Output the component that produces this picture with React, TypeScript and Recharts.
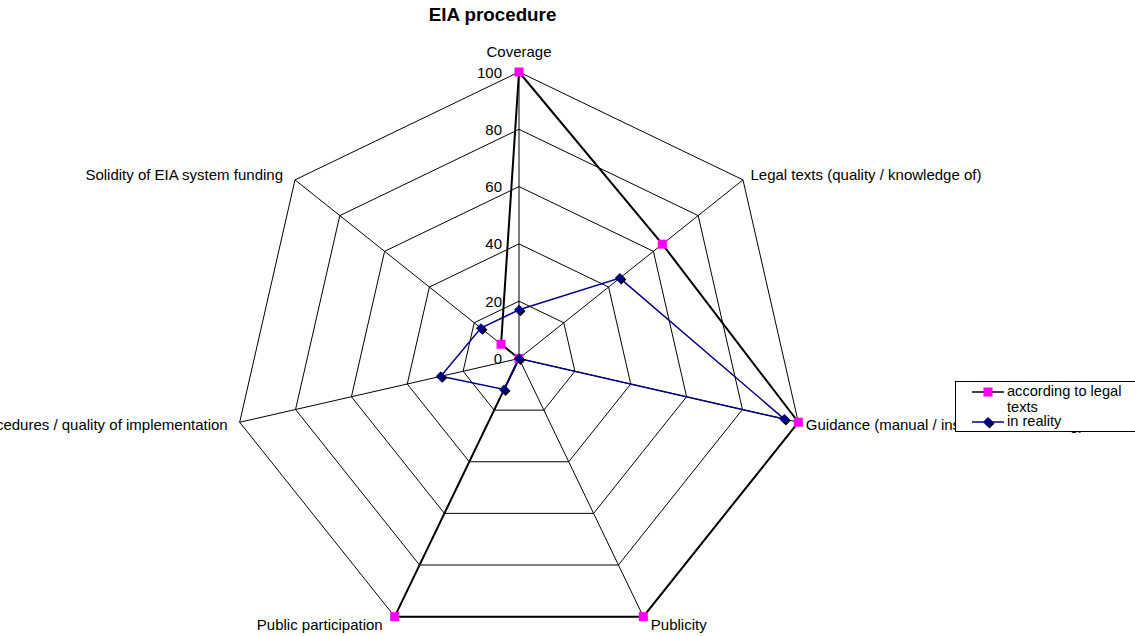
import { RadarChart, Radar, PolarGrid, PolarAngleAxis, PolarRadiusAxis } from 'recharts';

const FONT = '"Liberation Sans", Arial, sans-serif';
const MAGENTA = '#ff00ff';
const NAVY = '#000080';

const CX = 519;
const CY = 358.5;
const R = 286.5;

const criteria = [
  'Coverage',
  'Legal texts (quality / knowledge of)',
  'Guidance (manual / instructions / training)',
  'Publicity',
  'Public participation',
  'Compliance with procedures / quality of implementation',
  'Solidity of EIA system funding',
];
const legalTexts = [100, 64, 100, 100, 100, 0, 8];
const inReality = [17, 45, 95, 0, 12, 28, 17];
const radiusTicks = [0, 20, 40, 60, 80, 100];

const data = criteria.map((name, i) => ({
  name,
  legal: legalTexts[i],
  reality: inReality[i],
}));

function AngleTick(props: any) {
  const { payload } = props;
  const a = (payload.coordinate * Math.PI) / 180;
  const cos = Math.cos(a);
  const sin = Math.sin(a);
  const vx = CX + R * cos;
  const vy = CY - R * sin;
  let x = vx;
  let y = vy - 21;
  let anchor: 'start' | 'middle' | 'end' = 'middle';
  if (Math.abs(cos) > 1e-3) {
    x = cos > 0 ? vx + 7.5 : vx - 12;
    y = vy - 9 * sin;
    anchor = cos > 0 ? 'start' : 'end';
  }
  return (
    <text x={x} y={y} textAnchor={anchor} dominantBaseline="central" fontSize={15} fontFamily={FONT} fill="#000">
      {payload.value}
    </text>
  );
}

function RadiusTick(props: any) {
  const { x, y, payload } = props;
  return (
    <text x={x - 17} y={y} textAnchor="end" dominantBaseline="central" fontSize={15} fontFamily={FONT} fill="#000">
      {payload.value}
    </text>
  );
}

function SquareDot(props: any) {
  const { cx, cy, index } = props;
  return <rect key={`sq-${index}`} x={cx - 4.5} y={cy - 4.5} width={9} height={9} fill={MAGENTA} />;
}

function DiamondDot(props: any) {
  const { cx, cy, index } = props;
  const d = (ox: number, oy: number) =>
    `M${cx + ox},${cy + oy - 5} L${cx + ox + 5},${cy + oy} L${cx + ox},${cy + oy + 5} L${cx + ox - 5},${cy + oy} Z`;
  return (
    <g key={`dm-${index}`}>
      <path d={d(1.5, 1.5)} fill="#000" />
      <path d={d(0, 0)} fill={NAVY} />
    </g>
  );
}

function LegendBox() {
  const text = { position: 'absolute' as const, left: 51, fontSize: 14.6, lineHeight: '16px', fontFamily: FONT, color: '#000' };
  return (
    <div
      style={{
        position: 'absolute',
        left: 955,
        top: 381,
        width: 200,
        height: 51,
        border: '1px solid #000',
        background: '#fff',
        boxSizing: 'border-box',
      }}
    >
      <svg width={40} height={50} style={{ position: 'absolute', left: 15, top: 0 }}>
        <line x1={1} y1={10} x2={33} y2={10} stroke="#000" strokeWidth={1.5} />
        <rect x={12.5} y={5.5} width={9} height={9} fill={MAGENTA} />
        <line x1={1} y1={40} x2={33} y2={40} stroke={NAVY} strokeWidth={1.5} />
        <path d="M18.5,36.5 L23.5,41.5 L18.5,46.5 L13.5,41.5 Z" fill="#000" />
        <path d="M17,35 L22,40 L17,45 L12,40 Z" fill={NAVY} />
      </svg>
      <div style={{ ...text, top: 1, width: 125 }}>according to legal texts</div>
      <div style={{ ...text, top: 31 }}>in reality</div>
    </div>
  );
}

export default function App() {
  return (
    <div style={{ position: 'absolute', left: 0, top: 0, width: 1135, height: 636, overflow: 'hidden', background: '#fff' }}>
      <div
        style={{
          position: 'absolute',
          left: 0,
          width: 985,
          top: 6,
          textAlign: 'center',
          fontFamily: FONT,
          fontWeight: 'bold',
          fontSize: 18.8,
          lineHeight: '18px',
          zIndex: 2,
        }}
      >
        EIA procedure
      </div>
      <RadarChart
        width={1135}
        height={636}
        data={data}
        cx={CX}
        cy={CY}
        outerRadius={R}
        margin={{ top: 0, right: 0, bottom: 0, left: 0 }}
      >
        <PolarGrid gridType="polygon" stroke="#000" strokeOpacity={1} strokeWidth={1} />
        <PolarAngleAxis dataKey="name" tick={<AngleTick />} tickLine={false} axisLine={false} />
        <PolarRadiusAxis
          angle={90}
          domain={[0, 100]}
          ticks={radiusTicks}
          tickCount={6}
          tick={<RadiusTick />}
          axisLine={false}
          tickLine={false}
        />
        <Radar
          dataKey="legal"
          name="according to legal texts"
          stroke="#000"
          strokeWidth={2}
          fill="none"
          fillOpacity={0}
          dot={SquareDot}
          isAnimationActive={false}
        />
        <Radar
          dataKey="reality"
          name="in reality"
          stroke={NAVY}
          strokeWidth={1.5}
          fill="none"
          fillOpacity={0}
          dot={DiamondDot}
          isAnimationActive={false}
        />
      </RadarChart>
      <LegendBox />
    </div>
  );
}
